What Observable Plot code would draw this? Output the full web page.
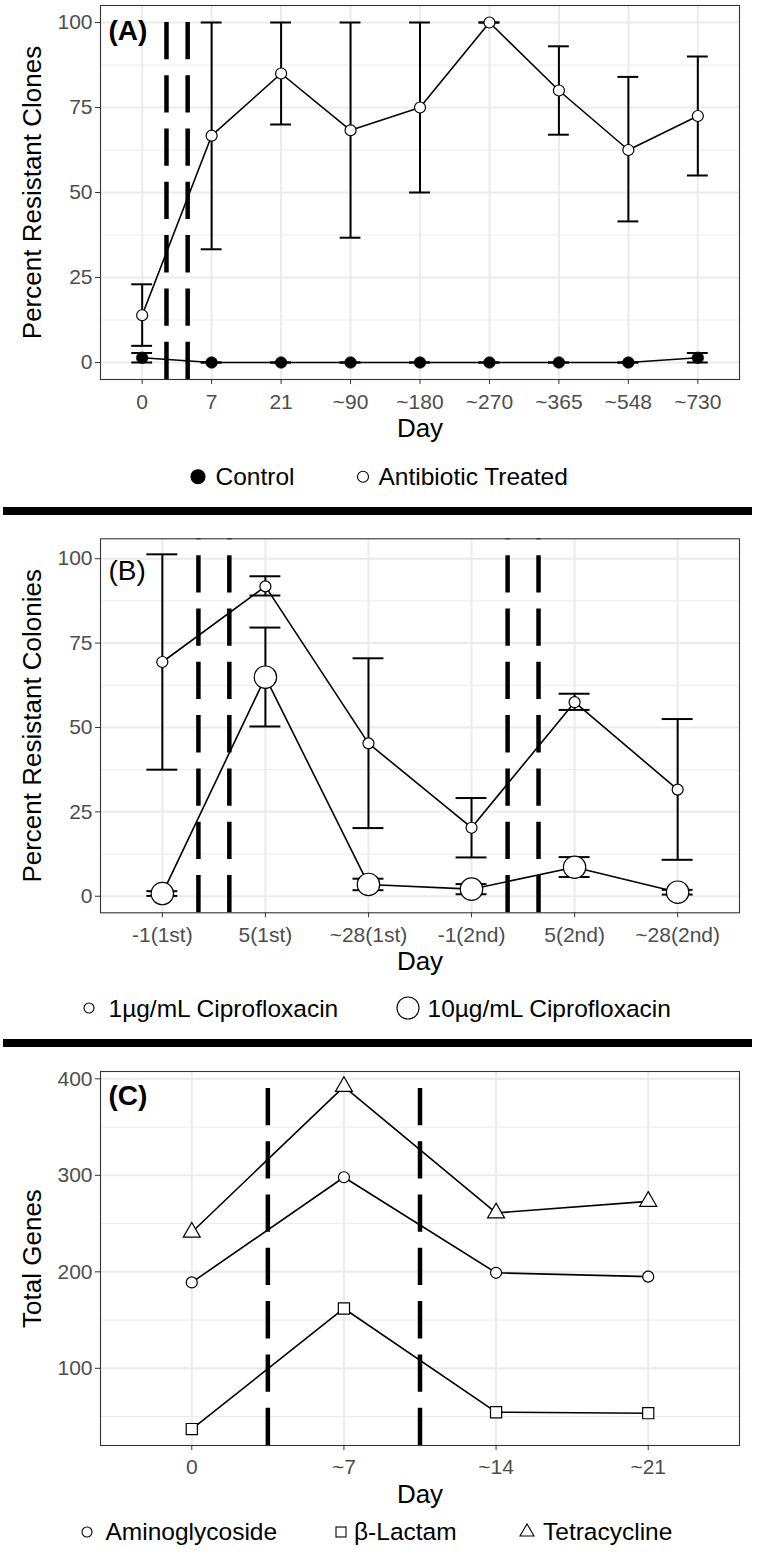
<!DOCTYPE html>
<html>
<head>
<meta charset="utf-8">
<script src="https://cdn.jsdelivr.net/npm/d3@7"></script>
<script src="https://cdn.jsdelivr.net/npm/@observablehq/plot@0.6"></script>
<style>
  html, body { margin: 0; padding: 0; background: #ffffff; }
  #page { position: relative; width: 757px; height: 1554px; overflow: hidden; background: #ffffff; }
  .bar { position: absolute; left: 3px; width: 749px; height: 8px; background: #000000; }
</style>
</head>
<body>
<div id="page"></div>
<script>
// ---------------- DATA ----------------
// Panel A
const daysA = ["0", "7", "21", "~90", "~180", "~270", "~365", "~548", "~730"];
const controlMean = [1.4, 0, 0, 0, 0, 0, 0, 0, 1.4];
const controlLo   = [0,   0, 0, 0, 0, 0, 0, 0, 0];
const controlHi   = [2.8, 0, 0, 0, 0, 0, 0, 0, 2.8];
const treatedMean = [13.9, 66.7, 85, 68.3, 75, 100, 80, 62.5, 72.5];
const treatedLo   = [4.9, 33.3, 70, 36.7, 50, 100, 67, 41.5, 55];
const treatedHi   = [23, 100, 100, 100, 100, 100, 93, 84, 90];
const dashesA = [1.35, 1.655];

// Panel B
const daysB = ["-1(1st)", "5(1st)", "~28(1st)", "-1(2nd)", "5(2nd)", "~28(2nd)"];
const lowMean  = [69.4, 91.8, 45.3, 20.3, 57.5, 31.6];
const lowLo    = [37.5, 89.1, 20.2, 11.5, 55.2, 10.8];
const lowHi    = [101.3, 94.8, 70.5, 29.1, 60.0, 52.5];
const highMean = [0.8, 64.9, 3.5, 2.1, 8.6, 1.2];
const highLo   = [0.1, 50.3, 1.8, 0.6, 5.7, 0.5];
const highHi   = [1.5, 79.6, 5.2, 3.6, 11.6, 1.9];
const dashesB = [1.35, 1.65, 4.35, 4.65];

// Panel C
const daysC = ["0", "~7", "~14", "~21"];
const aminoglycoside = [189, 298, 199, 195];
const betaLactam     = [37, 162, 54.5, 53.5];
const tetracycline   = [241, 392, 261, 273];
const dashesC = [1.5, 2.5];

// ---------------- STYLE ----------------
const FONT = "'Liberation Sans', Arial, Helvetica, sans-serif";
const GRID = "#ebebeb";
const page = document.getElementById("page");

function rows(labels, mean, lo, hi, s) {
  return labels.map((d, i) => ({i: i + 1, day: d, m: mean[i], lo: lo ? lo[i] : mean[i], hi: hi ? hi[i] : mean[i], s}));
}

function errorMarks(data, capHalf) {
  return [
    Plot.ruleX(data, {x: "i", y1: "lo", y2: "hi", stroke: "black", strokeWidth: 2}),
    Plot.ruleY(data, {y: "lo", x1: d => d.i - capHalf, x2: d => d.i + capHalf, stroke: "black", strokeWidth: 2}),
    Plot.ruleY(data, {y: "hi", x1: d => d.i - capHalf, x2: d => d.i + capHalf, stroke: "black", strokeWidth: 2})
  ];
}

function panel({top, frameTop, frameBottom, labels, yDomain, yMajor, yMinor, dashes, dataMarks, tag, tagWeight, tagDy, yTitle, tickPad}) {
  const height = 460;
  const n = labels.length;
  const xs = d3.range(1, n + 1);
  const svg = Plot.plot({
    width: 757,
    height,
    marginTop: frameTop - top,
    marginBottom: top + height - frameBottom,
    marginLeft: 100,
    marginRight: 18,
    style: {fontFamily: FONT, background: "transparent", overflow: "visible"},
    x: {type: "linear", domain: [0.4, n + 0.6], label: null},
    y: {domain: yDomain, label: null},
    marks: [
      Plot.gridY(yMinor, {stroke: GRID, strokeWidth: 1, strokeOpacity: 1}),
      Plot.gridY(yMajor, {stroke: GRID, strokeWidth: 2, strokeOpacity: 1}),
      Plot.gridX(xs, {stroke: GRID, strokeWidth: 2, strokeOpacity: 1}),
      Plot.ruleX(dashes, {x: d => d, y1: yDomain[0], y2: yDomain[1], stroke: "black", strokeWidth: 4.5, strokeDasharray: "37.3,16"}),
      ...dataMarks,
      Plot.frame({stroke: "#333333", strokeWidth: 1.1}),
      Plot.axisX(xs, {tickFormat: i => labels[i - 1], tickSize: 5, tickPadding: tickPad, fontSize: 21, color: "#4d4d4d", stroke: "#333333", label: null}),
      Plot.axisY(yMajor, {tickSize: 5, tickPadding: 3, fontSize: 21, color: "#4d4d4d", stroke: "#333333", label: null}),
      Plot.text([yTitle], {text: d => d, frameAnchor: "left", textAnchor: "middle", lineAnchor: "middle", rotate: -90, dx: -68.3, fontSize: 26, fill: "black"}),
      Plot.text(["Day"], {text: d => d, frameAnchor: "bottom", textAnchor: "middle", lineAnchor: "middle", dy: 49, fontSize: 26, fill: "black"}),
      Plot.text([tag], {text: d => d, frameAnchor: "top-left", textAnchor: "start", lineAnchor: "top", dx: 8, dy: tagDy, fontSize: 28, fontWeight: tagWeight, fill: "black"})
    ]
  });
  svg.style.position = "absolute";
  svg.style.top = top + "px";
  svg.style.left = "0px";
  page.appendChild(svg);
}

function legend(top, height, cy, baseline, items) {
  const svg = d3.create("svg")
    .attr("width", 757).attr("height", height)
    .style("position", "absolute").style("left", "0px").style("top", top + "px");
  for (const it of items) {
    const y = cy - top;
    if (it.sym === "circle") {
      svg.append("circle").attr("cx", it.cx).attr("cy", y).attr("r", it.r)
        .attr("fill", it.fill).attr("stroke", "black").attr("stroke-width", it.sw || 1.1);
    } else if (it.sym === "square") {
      svg.append("rect").attr("x", it.cx - it.r).attr("y", y - it.r).attr("width", 2 * it.r).attr("height", 2 * it.r)
        .attr("fill", "white").attr("stroke", "black").attr("stroke-width", 1.1);
    } else if (it.sym === "triangle") {
      const s = it.r; // half side
      const h = s * Math.sqrt(3);
      svg.append("path")
        .attr("d", `M${it.cx},${y - 2 * h / 3}L${it.cx + s},${y + h / 3}L${it.cx - s},${y + h / 3}Z`)
        .attr("fill", "white").attr("stroke", "black").attr("stroke-width", 1.1);
    }
    svg.append("text").attr("x", it.tx).attr("y", baseline - top)
      .attr("font-family", FONT).attr("font-size", 24.5).attr("fill", "black").text(it.label);
  }
  page.appendChild(svg.node());
}

function bar(top) {
  const d = document.createElement("div");
  d.className = "bar";
  d.style.top = top + "px";
  page.appendChild(d);
}

// ---------------- PANEL A ----------------
const ctrlA = rows(daysA, controlMean, controlLo, controlHi, "Control");
const trtA = rows(daysA, treatedMean, treatedLo, treatedHi, "Antibiotic Treated");
const allA = ctrlA.concat(trtA);
panel({
  top: 0, frameTop: 5, frameBottom: 379,
  labels: daysA, yDomain: [-5, 105],
  yMajor: [0, 25, 50, 75, 100], yMinor: [12.5, 37.5, 62.5, 87.5],
  dashes: dashesA,
  dataMarks: [
    Plot.line(allA, {x: "i", y: "m", z: "s", stroke: "black", strokeWidth: 1.6}),
    ...errorMarks(allA, 0.15),
    Plot.dot(ctrlA, {x: "i", y: "m", r: 5.8, fill: "black", stroke: "black", strokeWidth: 0.6}),
    Plot.dot(trtA, {x: "i", y: "m", r: 5.5, fill: "white", stroke: "black", strokeWidth: 1.2})
  ],
  tag: "(A)", tagWeight: "bold", tagDy: 15, yTitle: "Percent Resistant Clones", tickPad: 10
});
legend(455, 44, 476.7, 485, [
  {sym: "circle", cx: 198, r: 7, fill: "black", label: "Control", tx: 215.5},
  {sym: "circle", cx: 363, r: 5.5, fill: "white", label: "Antibiotic Treated", tx: 378.5}
]);
bar(507);

// ---------------- PANEL B ----------------
const lowB = rows(daysB, lowMean, lowLo, lowHi, "1");
const highB = rows(daysB, highMean, highLo, highHi, "10");
const allB = lowB.concat(highB);
panel({
  top: 520, frameTop: 538.3, frameBottom: 912.3,
  labels: daysB, yDomain: [-4.9, 105.9],
  yMajor: [0, 25, 50, 75, 100], yMinor: [12.5, 37.5, 62.5, 87.5],
  dashes: dashesB,
  dataMarks: [
    Plot.line(allB, {x: "i", y: "m", z: "s", stroke: "black", strokeWidth: 1.6}),
    ...errorMarks(allB, 0.15),
    Plot.dot(lowB, {x: "i", y: "m", r: 5.5, fill: "white", stroke: "black", strokeWidth: 1.2}),
    Plot.dot(highB, {x: "i", y: "m", r: 11.2, fill: "white", stroke: "black", strokeWidth: 1.2})
  ],
  tag: "(B)", tagWeight: "normal", tagDy: 21, yTitle: "Percent Resistant Colonies", tickPad: 9.5
});
legend(985, 44, 1008, 1016.8, [
  {sym: "circle", cx: 89, r: 5, fill: "white", label: "1\u00b5g/mL Ciprofloxacin", tx: 108.5},
  {sym: "circle", cx: 408, r: 11, fill: "white", label: "10\u00b5g/mL Ciprofloxacin", tx: 427.5}
]);
bar(1039);

// ---------------- PANEL C ----------------
const amC = rows(daysC, aminoglycoside, null, null, "Aminoglycoside");
const blC = rows(daysC, betaLactam, null, null, "\u03b2-Lactam");
const tcC = rows(daysC, tetracycline, null, null, "Tetracycline");
const allC = amC.concat(blC, tcC);
panel({
  top: 1050, frameTop: 1071, frameBottom: 1445,
  labels: daysC, yDomain: [20, 407.6],
  yMajor: [100, 200, 300, 400], yMinor: [50, 150, 250, 350],
  dashes: dashesC,
  dataMarks: [
    Plot.line(allC, {x: "i", y: "m", z: "s", stroke: "black", strokeWidth: 1.6}),
    Plot.dot(amC, {x: "i", y: "m", symbol: "circle", r: 5.5, fill: "white", stroke: "black", strokeWidth: 1.2}),
    Plot.dot(blC, {x: "i", y: "m", symbol: "square", r: 6.3, fill: "white", stroke: "black", strokeWidth: 1.2}),
    Plot.dot(tcC, {x: "i", y: "m", symbol: "triangle", r: 6.3, fill: "white", stroke: "black", strokeWidth: 1.2})
  ],
  tag: "(C)", tagWeight: "bold", tagDy: 14, yTitle: "Total Genes", tickPad: 9
});
legend(1512, 42, 1532, 1540.3, [
  {sym: "circle", cx: 87, r: 5, fill: "white", label: "Aminoglycoside", tx: 105.5},
  {sym: "square", cx: 341, r: 5, label: "\u03b2-Lactam", tx: 354},
  {sym: "triangle", cx: 527, r: 7, label: "Tetracycline", tx: 543}
]);
</script>
</body>
</html>
